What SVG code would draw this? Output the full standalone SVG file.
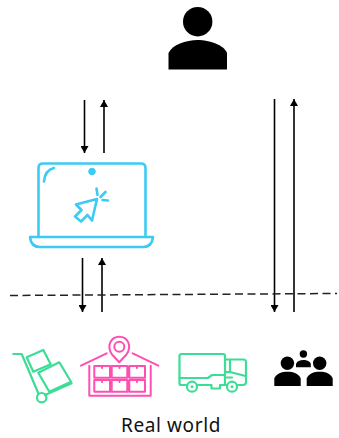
<svg xmlns="http://www.w3.org/2000/svg" width="339" height="438" viewBox="0 0 339 438">
<style>
.c{fill:none;stroke:#000;stroke-width:1.6}
.b{fill:none;stroke:#3ccbf4;stroke-width:2.6;stroke-linecap:round;stroke-linejoin:round}
.g{fill:none;stroke:#3ddc97;stroke-width:2.200;stroke-linecap:round;stroke-linejoin:round}
.p{fill:none;stroke:#ff4fb3;stroke-width:2;stroke-linecap:round;stroke-linejoin:round}
text{font-family:"Noto Sans","Open Sans",sans-serif;font-size:19px;letter-spacing:.6px;fill:#111}
</style>
<defs>
<marker id="a" markerUnits="userSpaceOnUse" markerWidth="8" markerHeight="8" refX="7" refY="4" orient="auto"><path d="M0 0L7 4L0 8Z" fill="#000"/></marker>
</defs>
<rect width="339" height="438" fill="#fff"/>
<g id="connectors">
<path class="c" d="M84.500 100V153" marker-end="url(#a)"/>
<path class="c" d="M104 153V100" marker-end="url(#a)"/>
<path class="c" d="M82.500 258V312" marker-end="url(#a)"/>
<path class="c" d="M102 312V258" marker-end="url(#a)"/>
<path class="c" d="M274.500 99V312" marker-end="url(#a)"/>
<path class="c" d="M294 312V99" marker-end="url(#a)"/>
<path d="M10 295.500L337 293.500" fill="none" stroke="#222" stroke-width="1.500" stroke-dasharray="8 4.500"/>
</g>
<g id="user">
<circle cx="197.700" cy="21.700" r="14.700"/>
<path d="M168.500 69.500V53C172 45 186 40 197.700 40S224 45 227 53V69.500Z"/>
</g>
<g id="laptop">
<path class="b" d="M38.500 237V168Q38.500 163.500 43 163.500H141Q145.500 163.500 145.500 168V237"/>
<path class="b" d="M30 237H153Q152 247 143 247H40Q31 247 30 237Z"/>
<path class="b" d="M44 181.500Q45 170 54 168"/>
<circle cx="92" cy="171.500" r="3.300" fill="#3ccbf4" stroke="#3ccbf4"/>
<path class="b" d="M97 199L76 204.500L81.500 210L75 216.500L81 221.500L87.500 215L92 220.500Z"/>
<path class="b" d="M96.500 188.500L97.500 195M105.500 192L100.500 197M108 200.500L102.500 200"/>
</g>
<g id="hand-truck">
<path class="g" d="M13.300 354H21.700L38.300 393.300"/>
<path class="g" d="M71.700 383.300L45 395"/>
<circle class="g" cx="41.700" cy="397.700" r="4.700"/>
<path class="g" d="M26.700 357.300L43.300 350L50.700 364.300L33.300 371.700Z"/>
<path class="g" d="M38.300 372.700L59.300 362.300L71 381.700L49.300 391.700Z"/>
</g>
<g id="warehouse">
<path class="p" d="M81 365.700L106.700 353.300M132.700 353.300L158.300 365.700"/>
<path class="p" d="M89.300 365.700V395.700H150.700V365.700"/>
<path class="p" d="M94.300 366H110V377.700H94.300ZM111.700 366H127.300V377.700H111.700ZM129.300 366H145V377.700H129.300Z"/>
<path class="p" d="M94.300 380H110V391.700H94.300ZM111.700 380H127.300V391.700H111.700ZM129.300 380H145V391.700H129.300Z"/>
<path class="p" d="M102 366V368M119.500 366V368M137 366V368M102 380V382M119.500 380V382M137 380V382"/>
<path class="p" d="M119.300 362.300L112 354.500C106 346 111 336.700 119.300 336.700S132.500 346 126.500 354.500Z"/>
<circle class="p" cx="119.300" cy="346.700" r="5"/>
</g>
<g id="truck">
<path class="g" d="M179.500 378V356Q179.500 354 181.500 354H223Q225 354 225 356V385"/>
<path class="g" d="M179.500 378V383.500Q179.500 385 181 385H186M179.500 378H208L212 375H225"/>
<path class="g" d="M198 385H211.500V388.500H220V385H227M225.500 359.500H243Q246 359.500 246 362V382Q246 385 243 385H238"/>
<path class="g" d="M230 360V372L245.500 376M226 372H230M227 377.500H232"/>
<circle class="g" cx="192" cy="386.700" r="5"/>
<circle cx="192" cy="386.700" r="1.500" fill="#3ddc97"/>
<circle class="g" cx="232" cy="386.700" r="5"/>
<circle cx="232" cy="386.700" r="1.500" fill="#3ddc97"/>
</g>
<g id="people">
<circle cx="303.400" cy="354" r="3.700"/>
<path d="M296 367.300V364C297 361 300 360 303.400 360S310 361 310.800 364V367.300Z"/>
<circle cx="287.400" cy="363.300" r="6.700"/>
<circle cx="319.700" cy="363.300" r="6.700"/>
<path d="M274.300 386V378.500C276 373.500 282 371.700 287.500 371.700S299 373.500 300.700 378.500V386Z"/>
<path d="M306.700 386V378.500C308.500 373.500 314 371.700 319.700 371.700S331 373.500 332.700 378.500V386Z"/>
</g>
<text id="label" x="171" y="431.500" text-anchor="middle">Real world</text>
</svg>
